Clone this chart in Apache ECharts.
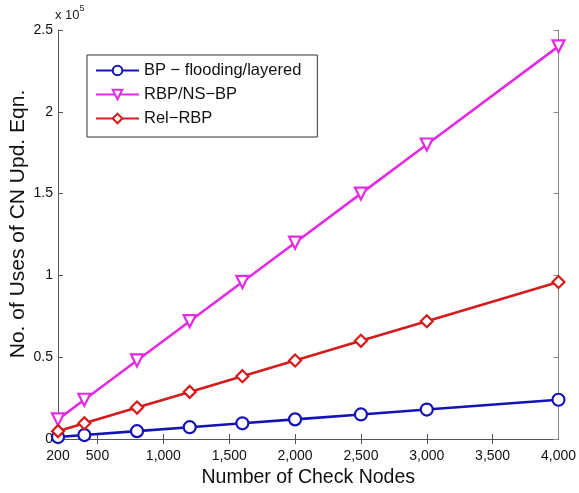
<!DOCTYPE html>
<html>
<head>
<meta charset="utf-8">
<script src="https://cdn.jsdelivr.net/npm/echarts@6/dist/echarts.min.js"></script>
<style>
  html, body { margin: 0; padding: 0; background: #fff; }
  #chart { width: 579px; height: 493px; }
</style>
</head>
<body>
<div id="chart"></div>
<script>
// data
const checkNodes = [200, 400, 800, 1200, 1600, 2000, 2500, 3000, 4000];
const bpFlooding = [1200, 2400, 4800, 7200, 9600, 12000, 15000, 18000, 24000];
const rbpNsBp = [12000, 24000, 48000, 72000, 96000, 120000, 150000, 180000, 240000];
const relRbp = [4800, 9600, 19200, 28800, 38400, 48000, 60000, 72000, 96000];
const xLabelValues = [200, 500, 1000, 1500, 2000, 2500, 3000, 3500, 4000];
const xTickValues = [500, 1000, 1500, 2000, 2500, 3000, 3500];

const font = "Liberation Sans";
const pairs = arr => checkNodes.map((x, i) => [x, arr[i]]);

function mkSeries(name, data, color, symbol) {
  return {
    name: name,
    type: "line",
    data: pairs(data),
    symbol: symbol,
    symbolSize: 12,
    showSymbol: true,
    lineStyle: { width: 2.6, color: color },
    itemStyle: { color: "#fff", borderColor: color, borderWidth: 2.2 },
    z: 3
  };
}

const chart = echarts.init(document.getElementById("chart"));
chart.setOption({
  animation: false,
  textStyle: { fontFamily: font },
  grid: { left: 58, right: 16, top: 30, bottom: 52, containLabel: false },
  legend: {
    orient: "vertical",
    left: 87,
    top: 55,
    width: 230,
    padding: [7, 16, 10, 8],
    itemGap: 7,
    itemWidth: 43,
    itemHeight: 12,
    backgroundColor: "#fff",
    borderColor: "#333",
    borderWidth: 1,
    textStyle: { fontSize: 16.5, lineHeight: 17, color: "#111", fontFamily: font },
    data: ["BP \u2212 flooding/layered", "RBP/NS\u2212BP", "Rel\u2212RBP"]
  },
  graphic: [{
    type: "text",
    left: 55,
    top: 4,
    style: {
      text: "{b|x 10}{s|5}",
      rich: {
        b: { fontSize: 13, fontFamily: font, fill: "#222", verticalAlign: "bottom", lineHeight: 18 },
        s: { fontSize: 9, fontFamily: font, fill: "#222", verticalAlign: "top", lineHeight: 12 }
      }
    }
  }, {
    type: "text",
    x: 18,
    y: 224,
    rotation: Math.PI / 2,
    style: {
      text: "No. of Uses of CN Upd. Eqn.",
      fontSize: 21,
      fontFamily: font,
      fill: "#111",
      align: "center",
      verticalAlign: "middle"
    }
  }],
  xAxis: [{
    type: "value",
    min: 200,
    max: 4000,
    position: "bottom",
    name: "Number of Check Nodes",
    nameLocation: "middle",
    nameGap: 29,
    nameTextStyle: { fontSize: 19.5, color: "#111", fontFamily: font },
    axisLine: { lineStyle: { color: "#555", width: 1 } },
    axisTick: { inside: true, length: 5, customValues: xTickValues, lineStyle: { color: "#555" } },
    axisLabel: {
      customValues: xLabelValues,
      fontSize: 14,
      color: "#111",
      margin: 10,
      formatter: v => v.toLocaleString("en-US")
    },
    splitLine: { show: false }
  }, {
    type: "value",
    min: 200,
    max: 4000,
    position: "top",
    axisLine: { lineStyle: { color: "#555", width: 1 } },
    axisTick: { inside: true, length: 5, customValues: xTickValues, lineStyle: { color: "#555" } },
    axisLabel: { show: false },
    splitLine: { show: false }
  }],
  yAxis: [{
    type: "value",
    min: 0,
    max: 250000,
    interval: 50000,
    position: "left",
    axisLine: { show: true, lineStyle: { color: "#555", width: 1 } },
    axisTick: { inside: true, length: 5, lineStyle: { color: "#555" } },
    axisLabel: { fontSize: 14, color: "#111", margin: 5, formatter: v => String(v / 100000) },
    splitLine: { show: false }
  }, {
    type: "value",
    min: 0,
    max: 250000,
    interval: 50000,
    position: "right",
    axisLine: { show: true, lineStyle: { color: "#888", width: 1 } },
    axisTick: { inside: true, length: 5, lineStyle: { color: "#888" } },
    axisLabel: { show: false },
    splitLine: { show: false }
  }],
  series: [
    mkSeries("BP \u2212 flooding/layered", bpFlooding, "#1414b4", "circle"),
    mkSeries("RBP/NS\u2212BP", rbpNsBp, "#e22be2", "path://M0,0 L10,0 L5,10 Z"),
    mkSeries("Rel\u2212RBP", relRbp, "#d41c1c", "diamond")
  ]
});
</script>
</body>
</html>
